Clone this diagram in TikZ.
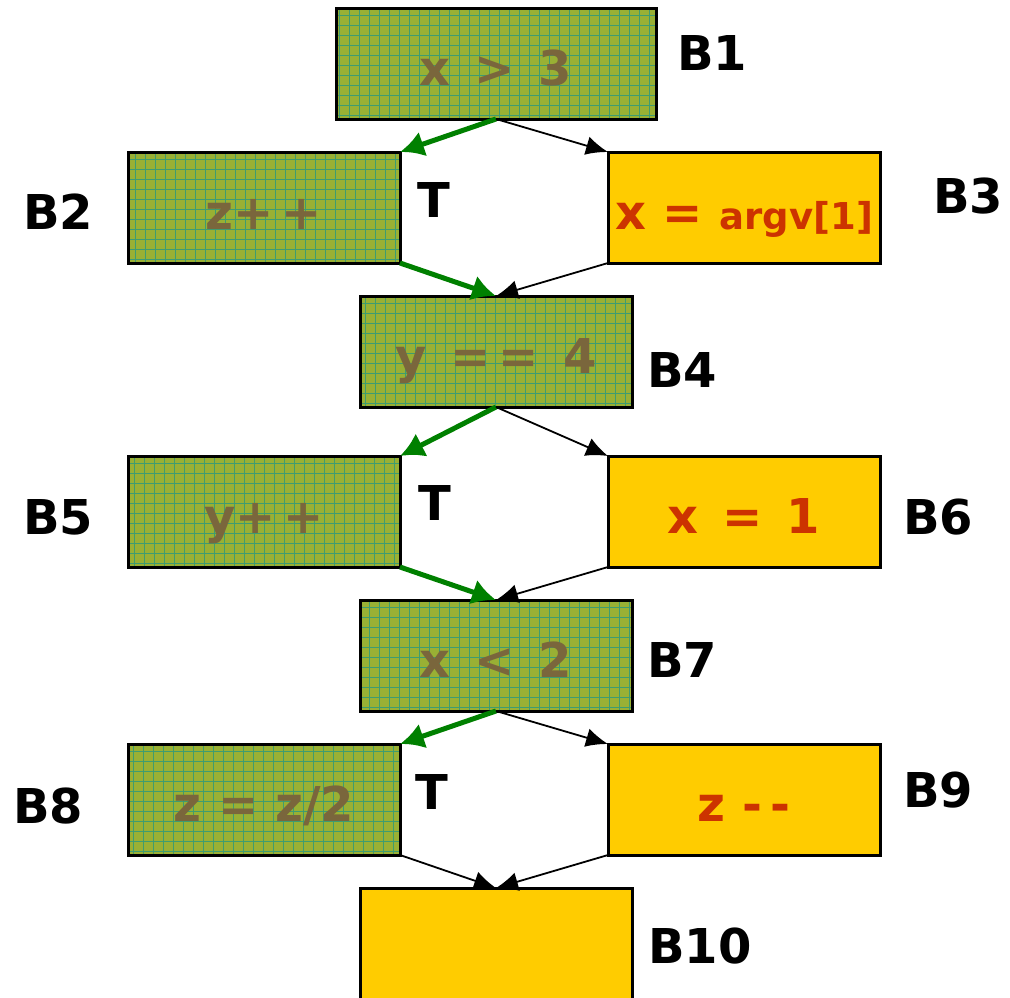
\documentclass[tikz,border=0pt]{standalone}
\usepackage{fontspec}
\setmainfont{DejaVu Sans}
\usetikzlibrary{arrows.meta}

\definecolor{olivefill}{RGB}{153,176,52}
\definecolor{gridteal}{RGB}{62,156,112}
\definecolor{browntext}{RGB}{122,102,60}
\definecolor{goldfill}{RGB}{255,204,0}
\definecolor{redtext}{RGB}{204,51,0}
\definecolor{pathgreen}{RGB}{0,128,0}

\newcommand{\gap}{\hspace{0.5em}}

\tikzset{
  block/.style={draw=black, line width=3pt, minimum width=272pt, minimum height=111pt,
    inner sep=0pt, outer sep=0pt, text height=43pt, text depth=0pt,
    font=\fontsize{48}{56}\selectfont\bfseries},
  taken/.style={block, fill=olivefill, text=browntext,
    path picture={\draw[gridteal, line width=0.8pt, step=10pt]
      (path picture bounding box.south west) grid (path picture bounding box.north east);}},
  untaken/.style={block, fill=goldfill, text=redtext},
  blabel/.style={font=\fontsize{48}{56}\selectfont\bfseries, inner sep=0pt},
  truelabel/.style={font=\fontsize{48}{56}\selectfont\bfseries, inner sep=0pt},
  truearrow/.style={draw=pathgreen, line width=5pt, -{Latex[length=24pt,width=26pt]}},
  falsearrow/.style={draw=black, line width=1.8pt, -{Latex[length=22pt,width=19pt]}}
}

\begin{document}
\begin{tikzpicture}[x=1pt, y=-1pt]
\useasboundingbox (0,0) rectangle (1010,997);

% basic blocks
\node[taken, minimum width=320pt] (b1) at (496,63.5) {x\gap>\gap3};
\node[taken] (b2) at (264,207.5) {z+\,+};
\node[untaken] (b3) at (744,207.5) {x = {\fontsize{37}{44}\selectfont argv[1]}};
\node[taken] (b4) at (496,351.5) {y\gap=\,=\gap4};
\node[taken] (b5) at (264,511.5) {y+\,+};
\node[untaken] (b6) at (744,511.5) {x\gap=\gap1};
\node[taken] (b7) at (496,655.5) {x\gap<\gap2};
\node[taken] (b8) at (264,799.5) {z = z/2};
\node[untaken] (b9) at (744,799.5) {z -\,-};
\node[untaken, minimum height=124pt] (b10) at (496,950) {};

% block names
\node[blabel] (l1) at (712,53) {B1};
\node[blabel] (l2) at (58,212) {B2};
\node[blabel] (l3) at (968,196) {B3};
\node[blabel] (l4) at (682,370) {B4};
\node[blabel] (l5) at (58,517) {B5};
\node[blabel] (l6) at (938,517) {B6};
\node[blabel] (l7) at (682,660) {B7};
\node[blabel] (l8) at (48,806) {B8};
\node[blabel] (l9) at (938,790) {B9};
\node[blabel] (l10) at (700,946) {B10};

% branch-taken markers
\node[truelabel] (t1) at (434,200) {T};
\node[truelabel] (t2) at (435,503) {T};
\node[truelabel] (t3) at (432,792) {T};

% control-flow edges
\draw[truearrow] (b1.south) -- (b2.north east);
\draw[falsearrow] (b1.south) -- (b3.north west);
\draw[truearrow] (b2.south east) -- (b4.north);
\draw[falsearrow] (b3.south west) -- (b4.north);
\draw[truearrow] (b4.south) -- (b5.north east);
\draw[falsearrow] (b4.south) -- (b6.north west);
\draw[truearrow] (b5.south east) -- (b7.north);
\draw[falsearrow] (b6.south west) -- (b7.north);
\draw[truearrow] (b7.south) -- (b8.north east);
\draw[falsearrow] (b7.south) -- (b9.north west);
\draw[falsearrow] (b8.south east) -- (b10.north);
\draw[falsearrow] (b9.south west) -- (b10.north);
\end{tikzpicture}
\end{document}
